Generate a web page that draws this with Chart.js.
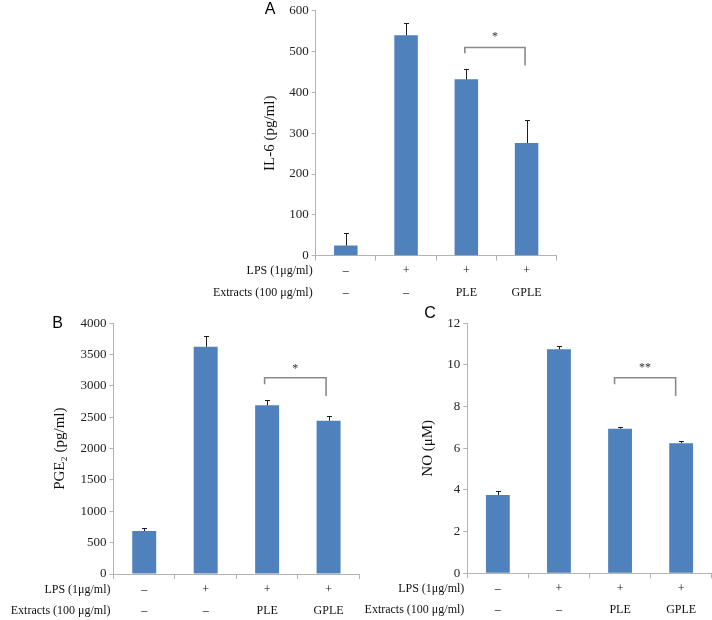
<!DOCTYPE html>
<html><head><meta charset="utf-8">
<script src="https://cdn.jsdelivr.net/npm/chart.js@4"></script>
<style>
html,body{margin:0;padding:0;background:#fff;width:712px;height:620px;overflow:hidden;position:relative}
canvas{position:absolute}
</style></head><body>
<canvas id="cA" width="372" height="305" style="left:200px;top:0px"></canvas>
<canvas id="cB" width="365" height="320" style="left:0px;top:300px"></canvas>
<canvas id="cC" width="352" height="320" style="left:360px;top:300px"></canvas>
<script>
// ---- data ----
const lpsRow = ['–', '+', '+', '+'];
const extractRow = ['–', '–', 'PLE', 'GPLE'];
const lpsHeader = 'LPS (1μg/ml)';
const extractHeader = 'Extracts (100 μg/ml)';

const il6Values = [25, 540, 432, 276];
const il6Errors = [30, 31, 25, 56];
const il6Ticks = { min: 0, max: 600, step: 100 };
const il6Sig = { from: 2, to: 3, top: 510, leftEnd: 496, rightEnd: 466, labelAt: 540, label: '*' };

const pge2Values = [686, 3627, 2691, 2446];
const pge2Errors = [45, 170, 80, 80];
const pge2Ticks = { min: 0, max: 4000, step: 500 };
const pge2Sig = { from: 2, to: 3, top: 3132, leftEnd: 3027, rightEnd: 2840, labelAt: 3303, label: '*' };

const noValues = [3.76, 10.75, 6.94, 6.24];
const noErrors = [0.2, 0.15, 0.1, 0.1];
const noTicks = { min: 0, max: 12, step: 2 };
const noSig = { from: 2, to: 3, top: 9.39, leftEnd: 9.07, rightEnd: 8.51, labelAt: 9.98, label: '**' };

const SERIF = '"Liberation Serif","Times New Roman",serif';
const SANS = '"Liberation Sans",Arial,sans-serif';
const BAR = '#4F81BD';
const AXIS = '#b3b3b3';

const annot = {
  id: 'annot',
  afterDraw(chart, args, o) {
    const ctx = chart.ctx, xs = chart.scales.x, ys = chart.scales.y, ca = chart.chartArea;
    ctx.save();
    // error bars (upper only)
    ctx.strokeStyle = '#1e1e1e'; ctx.lineWidth = 1;
    o.values.forEach((v, i) => {
      const cx = Math.round(xs.getPixelForValue(i)) + 0.5;
      const y0 = ys.getPixelForValue(v);
      const y1 = Math.round(ys.getPixelForValue(v + o.errors[i])) + 0.5;
      ctx.beginPath();
      ctx.moveTo(cx, y0); ctx.lineTo(cx, y1);
      ctx.moveTo(cx - 2.5, y1); ctx.lineTo(cx + 2.5, y1);
      ctx.stroke();
    });
    // significance bracket
    const s = o.sig;
    const xl = xs.getPixelForValue(s.from) + o.bdx, xr = xs.getPixelForValue(s.to) + o.bdx;
    const yt = ys.getPixelForValue(s.top);
    ctx.strokeStyle = '#8a8a8a'; ctx.lineWidth = 1.6;
    ctx.beginPath();
    ctx.moveTo(xl, ys.getPixelForValue(s.leftEnd));
    ctx.lineTo(xl, yt); ctx.lineTo(xr, yt);
    ctx.lineTo(xr, ys.getPixelForValue(s.rightEnd));
    ctx.stroke();
    ctx.fillStyle = '#333';
    ctx.font = '12px ' + SERIF;
    ctx.textAlign = 'center'; ctx.textBaseline = 'middle';
    ctx.fillText(s.label, (xl + xr) / 2, ys.getPixelForValue(s.labelAt) + 2);
    // category rows
    ctx.fillStyle = '#111';
    ctx.font = '12px ' + SERIF;
    const r1 = ca.bottom + 15.5, r2 = ca.bottom + 37;
    lpsRow.forEach((t, i) => ctx.fillText(t, xs.getPixelForValue(i), r1));
    extractRow.forEach((t, i) => ctx.fillText(t, xs.getPixelForValue(i), r2));
    ctx.textAlign = 'right';
    ctx.fillText(lpsHeader, ca.left - 3, r1);
    ctx.fillText(extractHeader, ca.left - 3, r2);
    // panel letter
    ctx.textAlign = 'center';
    ctx.font = '16px ' + SANS;
    ctx.fillStyle = '#000';
    ctx.fillText(o.letter, o.letterX, o.letterY);
    ctx.restore();
  }
};

function panel(id, values, errors, ticks, sig, title, g) {
  return new Chart(document.getElementById(id), {
    type: 'bar',
    data: {
      labels: extractRow.map((e, i) => lpsRow[i] + ' ' + e),
      datasets: [{ data: values, backgroundColor: BAR, borderWidth: 0,
                   barPercentage: 0.39, categoryPercentage: 1 }]
    },
    options: {
      responsive: false, animation: false, devicePixelRatio: 1,
      layout: { padding: { left: 0, top: g.top, right: g.right, bottom: 0 } },
      plugins: { legend: { display: false }, tooltip: { enabled: false },
        annot: { values, errors, sig, letter: g.letter, letterX: g.lx, letterY: g.ly, bdx: g.bdx } },
      scales: {
        x: {
          offset: true,
          grid: { offset: true, drawOnChartArea: false, drawTicks: true, tickLength: 5, color: AXIS },
          border: { color: AXIS, width: 1 },
          ticks: { display: false },
          afterFit: s => { s.height = g.xh; }
        },
        y: {
          min: ticks.min, max: ticks.max,
          grid: { drawOnChartArea: false, drawTicks: true, tickLength: 4, color: AXIS },
          border: { color: AXIS, width: 1 },
          ticks: { stepSize: ticks.step, padding: 3, color: '#222', font: { family: SERIF, size: 13 },
                   callback: v => String(v) },
          title: { display: true, text: title, color: '#111', font: { family: SERIF, size: 15 },
                   padding: { top: g.tp, bottom: 0 } },
          afterFit: s => { s.width = g.yw; }
        }
      }
    },
    plugins: [annot]
  });
}

panel('cA', il6Values, il6Errors, il6Ticks, il6Sig, 'IL-6 (pg/ml)',
  { top: 5, right: 15.3, xh: 49.3, yw: 115.7, tp: 61, letter: 'A', lx: 70, ly: 10, bdx: -1.5 });
panel('cB', pge2Values, pge2Errors, pge2Ticks, pge2Sig, 'PGE₂ (pg/ml)',
  { top: 23.3, right: 5.7, xh: 46, yw: 113.5, tp: 51, letter: 'B', lx: 57.5, ly: 24, bdx: -2.5 });
panel('cC', noValues, noErrors, noTicks, noSig, 'NO (μM)',
  { top: 23.3, right: 0.3, xh: 46.7, yw: 107.3, tp: 59, letter: 'C', lx: 70, ly: 13.5, bdx: -5.5 });
</script>
</body></html>
